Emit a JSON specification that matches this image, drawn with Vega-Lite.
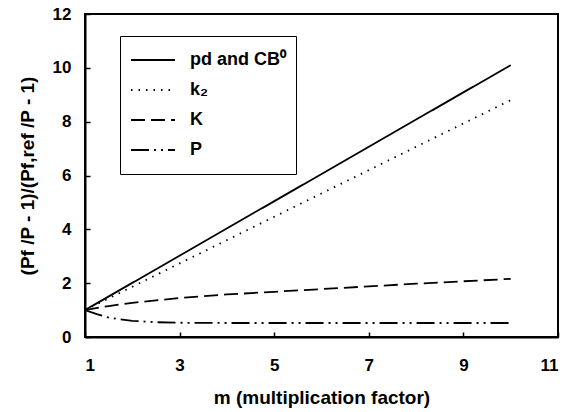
{
  "$schema": "https://vega.github.io/schema/vega-lite/v6.json",
  "autosize": {"type": "none"},
  "width": 473,
  "height": 323,
  "padding": {"left": 85, "top": 14, "right": 13, "bottom": 75},
  "background": "white",
  "config": {
    "view": {"stroke": "black", "strokeWidth": 2},
    "font": "Liberation Sans",
    "axis": {
      "grid": false,
      "domainColor": "black",
      "domainWidth": 2,
      "tickColor": "black",
      "tickWidth": 1.5,
      "tickSize": -5,
      "labelFont": "Liberation Sans",
      "labelFontSize": 17,
      "labelFontWeight": "bold",
      "labelColor": "black",
      "titleFont": "Liberation Sans",
      "titleFontSize": 19,
      "titleFontWeight": "bold",
      "titleColor": "black"
    }
  },
  "data": {
    "values": [
      {"m": 1, "v": 1, "s": "pd and CB⁰"},
      {"m": 10, "v": 10.1, "s": "pd and CB⁰"},
      {"m": 1, "v": 1, "s": "k₂"},
      {"m": 10, "v": 8.8, "s": "k₂"},
      {"m": 1, "v": 1, "s": "K"},
      {"m": 1.5, "v": 1.15, "s": "K"},
      {"m": 2, "v": 1.27, "s": "K"},
      {"m": 2.5, "v": 1.36, "s": "K"},
      {"m": 3, "v": 1.45, "s": "K"},
      {"m": 4, "v": 1.58, "s": "K"},
      {"m": 5, "v": 1.68, "s": "K"},
      {"m": 6, "v": 1.78, "s": "K"},
      {"m": 7, "v": 1.88, "s": "K"},
      {"m": 8, "v": 1.98, "s": "K"},
      {"m": 9, "v": 2.07, "s": "K"},
      {"m": 10, "v": 2.16, "s": "K"},
      {"m": 1, "v": 1, "s": "P"},
      {"m": 1.25, "v": 0.85, "s": "P"},
      {"m": 1.5, "v": 0.72, "s": "P"},
      {"m": 2, "v": 0.6, "s": "P"},
      {"m": 2.5, "v": 0.55, "s": "P"},
      {"m": 3, "v": 0.53, "s": "P"},
      {"m": 4, "v": 0.52, "s": "P"},
      {"m": 5, "v": 0.52, "s": "P"},
      {"m": 6, "v": 0.52, "s": "P"},
      {"m": 7, "v": 0.52, "s": "P"},
      {"m": 8, "v": 0.52, "s": "P"},
      {"m": 9, "v": 0.52, "s": "P"},
      {"m": 10, "v": 0.52, "s": "P"}
    ]
  },
  "mark": {"type": "line", "color": "black", "strokeWidth": 1.8, "clip": true},
  "encoding": {
    "x": {
      "field": "m",
      "type": "quantitative",
      "scale": {"domain": [1, 11], "nice": false, "zero": false},
      "axis": {"values": [1, 3, 5, 7, 9, 11], "title": "m (multiplication factor)", "labelPadding": 25, "titlePadding": 15}
    },
    "y": {
      "field": "v",
      "type": "quantitative",
      "scale": {"domain": [0, 12], "nice": false},
      "axis": {"values": [0, 2, 4, 6, 8, 10, 12], "title": "(Pf /P - 1)/(Pf,ref /P - 1)", "labelPadding": 19, "titlePadding": 15}
    },
    "strokeDash": {
      "field": "s",
      "type": "nominal",
      "scale": {
        "domain": ["pd and CB⁰", "k₂", "K", "P"],
        "range": [[1, 0], [1.5, 6], [14, 6], [18, 5, 2, 5, 2, 5]]
      },
      "legend": {
        "title": null,
        "orient": "none",
        "legendX": 35,
        "legendY": 22,
        "strokeColor": "black",
        "fillColor": "white",
        "padding": 10,
        "symbolType": "stroke",
        "symbolSize": 1936,
        "symbolStrokeColor": "black",
        "symbolStrokeWidth": 1.8,
        "clipHeight": 28,
        "labelFont": "Liberation Sans",
        "labelFontSize": 18,
        "labelFontWeight": "bold",
        "labelColor": "black",
        "labelOffset": 14,
        "rowPadding": 2
      }
    }
  }
}
